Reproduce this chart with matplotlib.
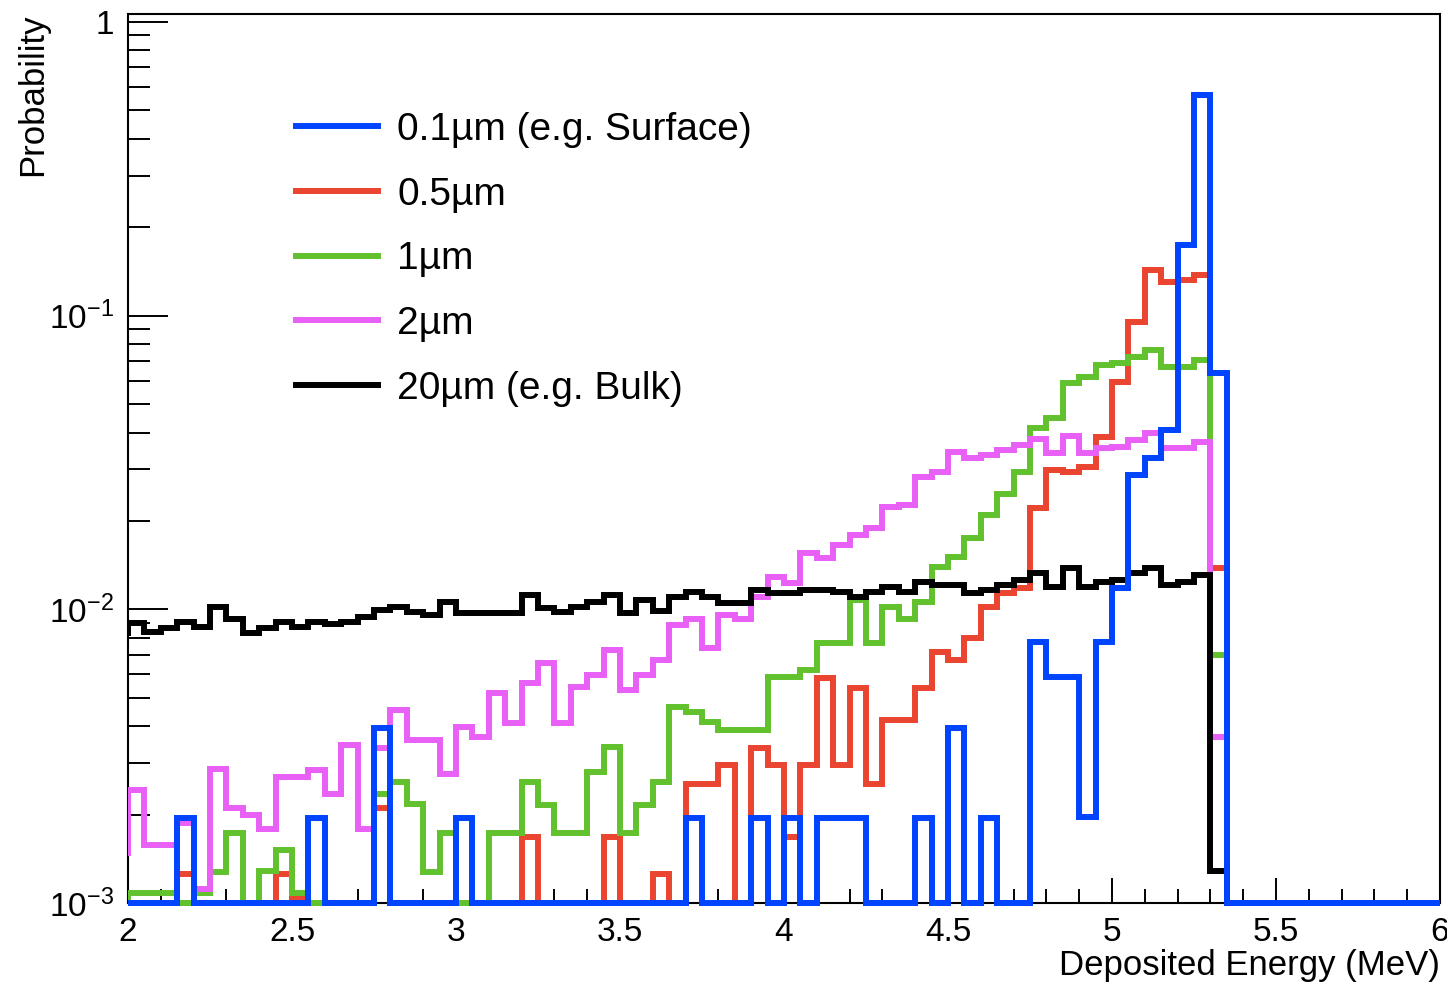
import numpy as np
import matplotlib
matplotlib.use('Agg')
import matplotlib.pyplot as plt
from matplotlib.lines import Line2D
from matplotlib.ticker import FixedLocator, FixedFormatter, MultipleLocator, LogLocator, NullFormatter
from matplotlib.transforms import Bbox, TransformedBbox

plt.rcParams['font.family'] = ['Liberation Sans', 'DejaVu Sans']
plt.rcParams['mathtext.fontset'] = 'custom'
plt.rcParams['mathtext.rm'] = 'Liberation Sans'
plt.rcParams['mathtext.it'] = 'Liberation Sans:italic'

# bin edges: 0.05 MeV bins, first bin (1.95-2.00) only shows as the step at the left frame
edges = np.round(np.arange(1.95, 6.0001, 0.05), 2)

labels = ['0.1µm (e.g. Surface)', '0.5µm', '1µm', '2µm', '20µm (e.g. Bulk)']
colors = ['#0044ff', '#ea4530', '#62c22d', '#e960f6', '#000000']

blue = [0,
        0, 0, 0, 0.00194, 0, 0, 0, 0, 0, 0,
        0, 0.00194, 0, 0, 0, 0.00393, 0, 0, 0, 0,
        0.00194, 0, 0, 0, 0, 0, 0, 0, 0, 0,
        0, 0, 0, 0, 0.00194, 0, 0, 0, 0.00194, 0,
        0.00194, 0, 0.00194, 0.00194, 0.00194, 0, 0, 0, 0.00194, 0,
        0.00393, 0, 0.00194, 0, 0, 0.00776, 0.00589, 0.00589, 0.00197, 0.00776,
        0.0118, 0.0287, 0.0327, 0.0408, 0.174, 0.564, 0.0636, 0, 0, 0,
        0, 0, 0, 0, 0, 0, 0, 0, 0, 0]

red = [0,
       0, 0, 0, 0.00126, 0, 0, 0, 0, 0, 0.00126,
       0.00104, 0, 0, 0, 0, 0.0021, 0, 0, 0, 0,
       0, 0, 0, 0, 0.00168, 0, 0, 0, 0, 0.00168,
       0, 0, 0.00126, 0, 0.00255, 0.00255, 0.00295, 0, 0.00336, 0.00295,
       0.00168, 0.00295, 0.00582, 0.00295, 0.00538, 0.00255, 0.0042, 0.0042, 0.00538, 0.00717,
       0.00672, 0.00796, 0.0102, 0.0114, 0.0118, 0.0221, 0.0298, 0.0294, 0.0306, 0.0387,
       0.0595, 0.0953, 0.143, 0.130, 0.132, 0.1374, 0.0138, 0, 0, 0,
       0, 0, 0, 0, 0, 0, 0, 0, 0, 0]

green = [0,
         0.00108, 0.00108, 0.00108, 0, 0.00108, 0.00128, 0.00173, 0, 0.00129, 0.00152,
         0.00108, 0, 0, 0, 0, 0.00236, 0.00259, 0.00218, 0.00128, 0.00173,
         0, 0, 0.00173, 0.00173, 0.00259, 0.00216, 0.00173, 0.00173, 0.0028, 0.0034,
         0.00173, 0.00216, 0.00259, 0.00465, 0.00448, 0.00413, 0.00388, 0.00388, 0.00388, 0.00589,
         0.00589, 0.00621, 0.00766, 0.00766, 0.01076, 0.00766, 0.0102, 0.0093, 0.0106, 0.01396,
         0.0151, 0.01743, 0.02094, 0.0248, 0.0294, 0.0413, 0.0447, 0.0588, 0.0619, 0.0679,
         0.069, 0.0724, 0.0767, 0.067, 0.067, 0.0706, 0.00699, 0, 0, 0,
         0, 0, 0, 0, 0, 0, 0, 0, 0, 0]

magenta = [0.00148,
           0.00243, 0.00158, 0.00158, 0.00187, 0.00112, 0.00287, 0.0021, 0.00199, 0.00179, 0.00269,
           0.00269, 0.00284, 0.00236, 0.00345, 0.00179, 0.00336, 0.00454, 0.00359, 0.00359, 0.00276,
           0.00398, 0.00368, 0.00518, 0.00409, 0.0056, 0.00655, 0.00409, 0.00545, 0.00597, 0.00726,
           0.00531, 0.00597, 0.00672, 0.00884, 0.0093, 0.00736, 0.00956, 0.0093, 0.0110, 0.0129,
           0.01225, 0.0155, 0.0149, 0.01656, 0.0179, 0.01887, 0.02234, 0.02264, 0.02826, 0.0294,
           0.0344, 0.03266, 0.0335, 0.0349, 0.0362, 0.038, 0.0342, 0.039, 0.0342, 0.0353,
           0.0358, 0.0377, 0.0397, 0.0353, 0.0353, 0.0372, 0.00367, 0, 0, 0,
           0, 0, 0, 0, 0, 0, 0, 0, 0, 0]

black = [0.0083,
         0.00897, 0.0084, 0.00863, 0.00907, 0.00871, 0.0102, 0.0093, 0.00828, 0.00863, 0.00907,
         0.0087, 0.00907, 0.0089, 0.00907, 0.00944, 0.00995, 0.0102, 0.00982, 0.0096, 0.0106,
         0.0097, 0.00969, 0.00969, 0.00969, 0.0112, 0.0101, 0.0098, 0.0102, 0.0106, 0.0112,
         0.0097, 0.01076, 0.0099, 0.0110, 0.01148, 0.0110, 0.01048, 0.01048, 0.01164, 0.01133,
         0.01133, 0.01164, 0.01164, 0.01148, 0.0110, 0.01148, 0.01194, 0.01148, 0.0124, 0.0121,
         0.0121, 0.01133, 0.01164, 0.0121, 0.0126, 0.0133, 0.01194, 0.01378, 0.01194, 0.0124,
         0.0126, 0.01326, 0.01378, 0.0121, 0.0124, 0.0131, 0.00129, 0, 0, 0,
         0, 0, 0, 0, 0, 0, 0, 0, 0, 0]

ymin, ymax = 1e-3, 1.065

fig = plt.figure(figsize=(14.47, 9.84), dpi=100)
ax = fig.add_axes([0.0885, 0.0823, 0.9067, 0.9035])

# like ROOT: empty bins sit on the bottom of the frame, left step cut at x=2
clip = TransformedBbox(Bbox.from_extents(0, -0.02, 1, 1), ax.transAxes)
series = [blue, red, green, magenta, black]
layer = {1: 2, 2: 3, 3: 4, 4: 5, 0: 6}   # red lowest, blue on top
for idx in [1, 2, 3, 4, 0]:
    vals = np.maximum(np.array(series[idx]), ymin)
    st = ax.stairs(vals, edges, baseline=None, color=colors[idx], lw=4.3, zorder=layer[idx])
    st.set_clip_box(clip)

ax.set_yscale('log')
ax.set_xlim(2, 6)
ax.set_ylim(ymin, ymax)

ax.xaxis.set_minor_locator(MultipleLocator(0.1))
ax.set_xticks([2, 2.5, 3, 3.5, 4, 4.5, 5, 5.5, 6])
ax.set_xticklabels(['2', '2.5', '3', '3.5', '4', '4.5', '5', '5.5', '6'])
ax.yaxis.set_major_locator(FixedLocator([1e-3, 1e-2, 1e-1, 1]))
ax.yaxis.set_major_formatter(FixedFormatter(['$10^{-3}$', '$10^{-2}$', '$10^{-1}$', '1']))
ax.yaxis.set_minor_locator(LogLocator(base=10, subs=np.arange(2, 10)))
ax.yaxis.set_minor_formatter(NullFormatter())

ax.tick_params(axis='both', which='both', direction='in', top=False, right=False, width=1.4, labelsize=24)
ax.tick_params(axis='x', which='major', length=18, pad=10)
ax.tick_params(axis='x', which='minor', length=10)
ax.tick_params(axis='y', which='major', length=29, pad=10)
ax.tick_params(axis='y', which='minor', length=16)
for sp in ax.spines.values():
    sp.set_linewidth(1.5)

ax.set_xlabel('Deposited Energy (MeV)', fontsize=25, loc='right', labelpad=1)
ax.set_ylabel('Probability', fontsize=25, loc='top', labelpad=0)

handles = [Line2D([], [], color=c, lw=4.3) for c in colors]
ax.legend(handles, labels, loc='upper left', bbox_to_anchor=(0.128, 0.89), frameon=False,
          fontsize=28, handlelength=2.1, handletextpad=0.5, labelspacing=0.74,
          borderpad=0, borderaxespad=0)

fig.savefig('out.png', dpi=100)
